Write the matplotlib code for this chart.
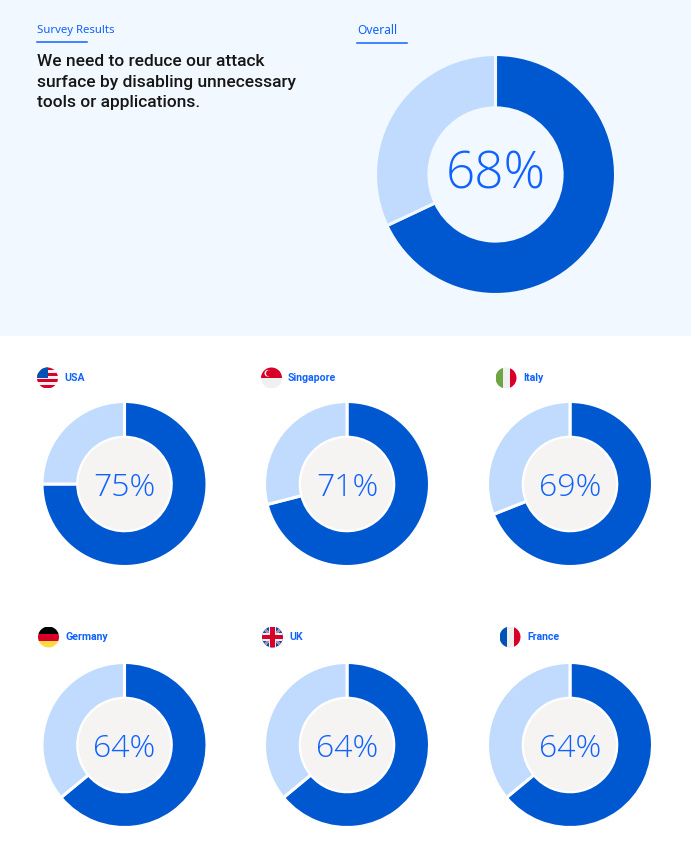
import matplotlib
matplotlib.use("Agg")
import matplotlib.pyplot as plt
from matplotlib.patches import Rectangle, Circle, Polygon

# dane
overall_pct = 68
countries = ["USA", "Singapore", "Italy", "Germany", "UK", "France"]
country_pct = [75, 71, 69, 64, 64, 64]
header_label = "Survey Results"
overall_label = "Overall"
question = "We need to reduce our attack\nsurface by disabling unnecessary\ntools or applications."

W, H = 691, 847
DARK = "#0058D1"
LIGHT = "#C1DBFE"
TXT_BLUE = "#0F62FE"
TOP_BG = "#F2F8FF"
HOLE = "#F5F4F2"

fig = plt.figure(figsize=(W / 100, H / 100), dpi=100)
fig.patch.set_facecolor("white")


def px_axes(x, y, w, h):  # piksel (üstten) -> figür koordinatı
    return fig.add_axes([x / W, 1 - (y + h) / H, w / W, h / H])


def fx(x):
    return x / W


def fy(y):
    return 1 - y / H


# üst açık mavi alan
fig.patches.append(Rectangle((0, fy(336)), 1, 336 / H, transform=fig.transFigure,
                             facecolor=TOP_BG, edgecolor="none", zorder=-5))

fig.text(fx(37), fy(30.5), header_label, color=TXT_BLUE, fontsize=8.2,
         family="Noto Sans", va="center", ha="left")
fig.lines.append(plt.Line2D([fx(37), fx(87)], [fy(42), fy(42)], transform=fig.transFigure,
                            color=TXT_BLUE, lw=1.1))
fig.text(fx(357), fy(30.5), overall_label, color=TXT_BLUE, fontsize=8.6,
         family="Noto Sans", va="center", ha="left")
fig.lines.append(plt.Line2D([fx(357), fx(407)], [fy(43), fy(43)], transform=fig.transFigure,
                            color=TXT_BLUE, lw=1.1))
fig.text(fx(37), fy(54), question, color="#161616", fontsize=12.5, family="Roboto",
         weight="medium", va="top", ha="left", linespacing=1.47)


def donut(ax, pct, ratio, edge, hole, fs, dy):
    ax.pie([pct, 100 - pct], startangle=90, counterclock=False, colors=[DARK, LIGHT],
           radius=1, wedgeprops=dict(width=1 - ratio, edgecolor=edge, linewidth=2.2))
    if hole is not None:
        ax.add_patch(Circle((0, 0), ratio - 0.01, facecolor=hole, edgecolor="none", zorder=3))
    ax.text(0, dy, f"{pct}%", color=TXT_BLUE, fontsize=fs, family="Open Sans", weight="light",
            ha="center", va="center", zorder=4)
    ax.set_xlim(-1.02, 1.02)
    ax.set_ylim(-1.02, 1.02)
    ax.set_aspect("equal")
    ax.axis("off")


# genel sonuç
ax = px_axes(495.5 - 122.4, 174.5 - 122.4, 244.8, 244.8)
donut(ax, overall_pct, 0.555, TOP_BG, None, 37, 0.0)


def flag(name, cx, cy, r=10.5):
    fa = px_axes(cx - r, cy - r, 2 * r, 2 * r)
    fa.set_xlim(-1, 1)
    fa.set_ylim(-1, 1)
    fa.set_aspect("equal")
    fa.axis("off")
    clip = Circle((0, 0), 1, transform=fa.transData)
    parts = []
    if name == "USA":
        for i in range(7):
            parts.append(Rectangle((-1, 1 - (i + 1) * 2 / 7), 2, 2 / 7,
                                   facecolor="#D80027" if i % 2 == 0 else "#F0F0F0"))
        parts.append(Rectangle((-1, 0), 1.05, 1, facecolor="#0052B4"))
    elif name == "Singapore":
        parts.append(Rectangle((-1, 0), 2, 1, facecolor="#D80027"))
        parts.append(Rectangle((-1, -1), 2, 1, facecolor="#F0F0F0"))
        parts.append(Circle((-0.35, 0.45), 0.32, facecolor="#F0F0F0"))
        parts.append(Circle((-0.22, 0.45), 0.3, facecolor="#D80027"))
    elif name == "Italy":
        for i, c in enumerate(["#6DA544", "#F0F0F0", "#D80027"]):
            parts.append(Rectangle((-1 + i * 2 / 3, -1), 2 / 3, 2, facecolor=c))
    elif name == "Germany":
        for i, c in enumerate(["#000000", "#D80027", "#FFDA44"]):
            parts.append(Rectangle((-1, 1 - (i + 1) * 2 / 3), 2, 2 / 3, facecolor=c))
    elif name == "UK":
        parts.append(Rectangle((-1, -1), 2, 2, facecolor="#0052B4"))
        for s in (1, -1):
            parts.append(Polygon([(-1, -s * 0.85), (-0.85, -s), (1, s * 0.85), (0.85, s)],
                                 closed=True, facecolor="#F0F0F0"))
            parts.append(Polygon([(-1, -s * 0.95), (-0.95, -s), (1, s * 0.95), (0.95, s)],
                                 closed=True, facecolor="#D80027"))
        parts.append(Rectangle((-1, -0.35), 2, 0.7, facecolor="#F0F0F0"))
        parts.append(Rectangle((-0.35, -1), 0.7, 2, facecolor="#F0F0F0"))
        parts.append(Rectangle((-1, -0.2), 2, 0.4, facecolor="#D80027"))
        parts.append(Rectangle((-0.2, -1), 0.4, 2, facecolor="#D80027"))
    elif name == "France":
        for i, c in enumerate(["#0052B4", "#F0F0F0", "#D80027"]):
            parts.append(Rectangle((-1 + i * 2 / 3, -1), 2 / 3, 2, facecolor=c))
    for p in parts:
        p.set_edgecolor("none")
        fa.add_patch(p)
        p.set_clip_path(clip)


col_cx = [124.5, 347, 570]
row_cy = [484, 745]
flag_cx = [47.5, 271.5, 506]
label_x = [64, 288, 523]
flag_row_y = [378, 637]
R = 82.5

for i, (name, pct) in enumerate(zip(countries, country_pct)):
    r, c = divmod(i, 3)
    ax = px_axes(col_cx[c] - R * 1.02, row_cy[r] - R * 1.02, 2 * R * 1.02, 2 * R * 1.02)
    donut(ax, pct, 0.567, "white", HOLE, 23, -0.045)
    fx0 = flag_cx[c] + (1 if r == 1 else 0) + (3 if (r == 1 and c == 2) else 0)
    flag(name, fx0, flag_row_y[r])
    lx = label_x[c] + (1 if r == 1 else 0) + (3 if (r == 1 and c == 2) else 0)
    fig.text(fx(lx), fy(flag_row_y[r]), name, color=TXT_BLUE, fontsize=7.6, weight="bold",
             family="Roboto", va="center", ha="left")

fig.savefig("out.png", dpi=100)
